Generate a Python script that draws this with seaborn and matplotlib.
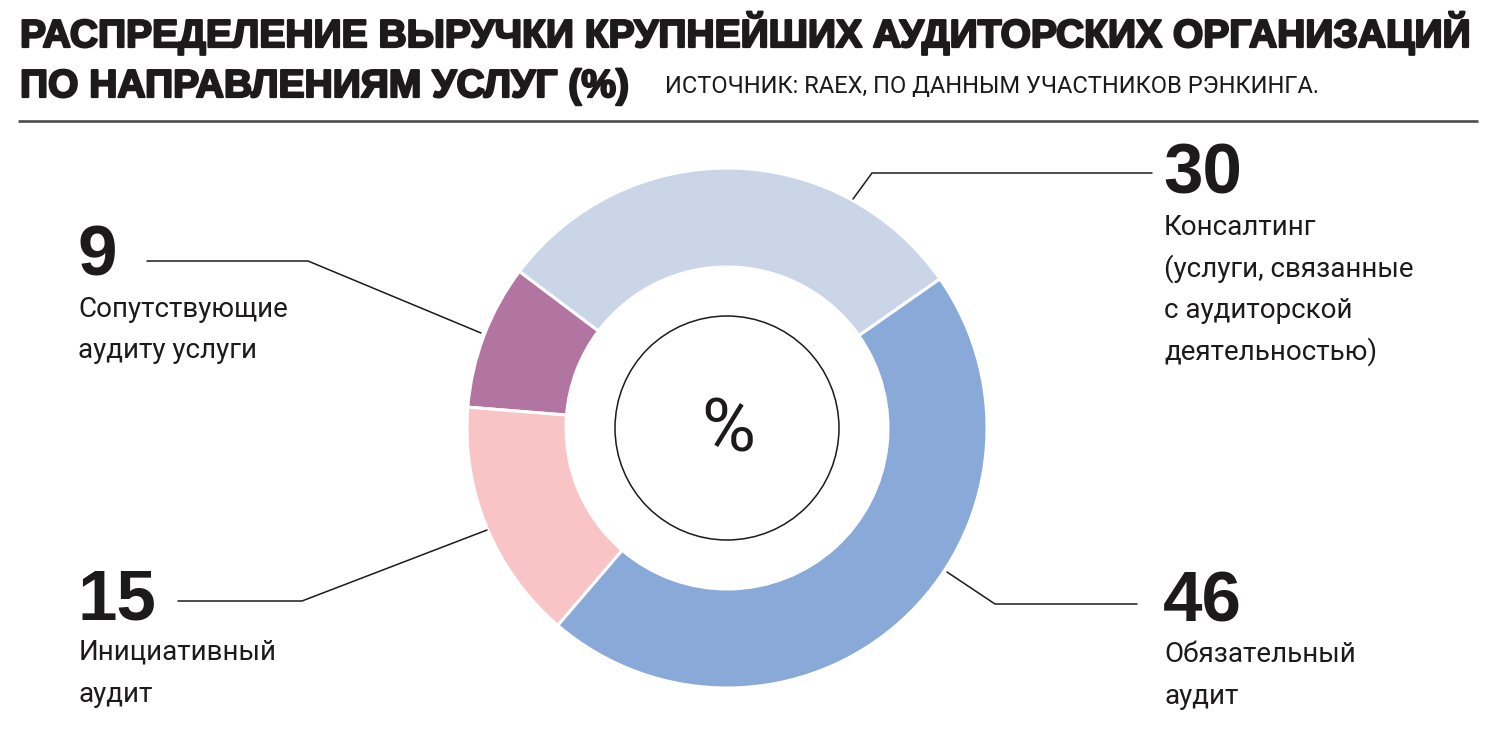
import matplotlib
matplotlib.use("Agg")
import matplotlib.pyplot as plt
import matplotlib.patheffects as pe
from matplotlib import font_manager
from matplotlib.patches import Circle
import seaborn as sns

# ---- data -------------------------------------------------------------
categories = ["Консалтинг", "Сопутствующие аудиту услуги",
              "Инициативный аудит", "Обязательный аудит"]
shares = [30, 9, 15, 46]
label_lines = [
    ["Консалтинг", "(услуги, связанные", "с аудиторской", "деятельностью)"],
    ["Сопутствующие", "аудиту услуги"],
    ["Инициативный", "аудит"],
    ["Обязательный", "аудит"],
]
title_lines = ["РАСПРЕДЕЛЕНИЕ ВЫРУЧКИ КРУПНЕЙШИХ АУДИТОРСКИХ ОРГАНИЗАЦИЙ",
               "ПО НАПРАВЛЕНИЯМ УСЛУГ (%)"]
source_text = "ИСТОЧНИК: RAEX, ПО ДАННЫМ УЧАСТНИКОВ РЭНКИНГА."
center_text = "%"

# ---- style ------------------------------------------------------------
sns.set_theme(style="white")
palette = sns.color_palette(["#cad6e7", "#b274a1", "#f8c4c5", "#89a9d8"])
INK = "#1c1a1b"

installed = {f.name for f in font_manager.fontManager.ttflist}


def fam(*names):
    found = [n for n in names if n in installed]
    return found + ["DejaVu Sans"]


NARROW = fam("Liberation Sans Narrow", "Roboto", "Liberation Sans")
BOLD = fam("Liberation Sans", "Roboto")
plt.rcParams["font.family"] = NARROW

W, H = 1502, 747
fig = plt.figure(figsize=(W / 100, H / 100), dpi=100)
ax = fig.add_axes([0, 0, 1, 1])


def Y(y):
    """Top-down pixel row to axis coordinate."""
    return H - y


# ---- donut ------------------------------------------------------------
cx, cy = 727, Y(428)
ax.pie(shares, colors=palette, startangle=35, counterclock=True,
       radius=260, center=(cx, cy),
       wedgeprops=dict(width=99, edgecolor="white", linewidth=2.2))
ax.add_patch(Circle((cx, cy), 112, facecolor="none", edgecolor=INK, lw=1.1))
ax.text(cx + 1, Y(452), center_text, ha="center", va="baseline", fontsize=53,
        family=NARROW, fontweight="normal", color=INK)

ax.set_xlim(0, W)
ax.set_ylim(0, H)
ax.set_aspect("equal")
ax.axis("off")

# ---- header -----------------------------------------------------------
heavy = [pe.withStroke(linewidth=1.6, foreground=INK)]
ax.text(20, Y(47), title_lines[0], ha="left", va="baseline", fontsize=28.1,
        family=BOLD, fontweight="bold", color=INK, path_effects=heavy)
ax.text(20, Y(97), title_lines[1], ha="left", va="baseline", fontsize=28.1,
        family=BOLD, fontweight="bold", color=INK, path_effects=heavy)
ax.text(665, Y(93), source_text, ha="left", va="baseline", fontsize=17,
        family=NARROW, color=INK)
ax.plot([18, 1478], [Y(121), Y(121)], color="#4d4d4d", lw=1.9,
        solid_capstyle="butt")

# ---- labels and leader lines -----------------------------------------
# (value x, value baseline, first text baseline, leader polyline)
layout = [
    (1163, 193, 235, [(853, 199), (872, 173), (1152, 173)]),
    (77, 275, 317, [(481, 333), (308, 261), (147, 261)]),
    (78, 620, 660, [(487, 530), (302, 601), (178, 601)]),
    (1163, 622, 662, [(947, 572), (995, 604), (1137, 604)]),
]
line_step = 41.5
for value, lines, (x, vb, tb, pts) in zip(shares, label_lines, layout):
    ax.text(x, Y(vb), f"{value}", ha="left", va="baseline", fontsize=51,
            family=BOLD, fontweight="bold", color=INK)
    for i, line in enumerate(lines):
        ax.text(x + 1, Y(tb + i * line_step), line, ha="left", va="baseline",
                fontsize=20, family=NARROW, color=INK)
    xs = [p[0] for p in pts]
    ys = [Y(p[1]) for p in pts]
    ax.plot(xs, ys, color=INK, lw=1.1, solid_joinstyle="miter")

fig.savefig("out.png", dpi=100, facecolor="white")
